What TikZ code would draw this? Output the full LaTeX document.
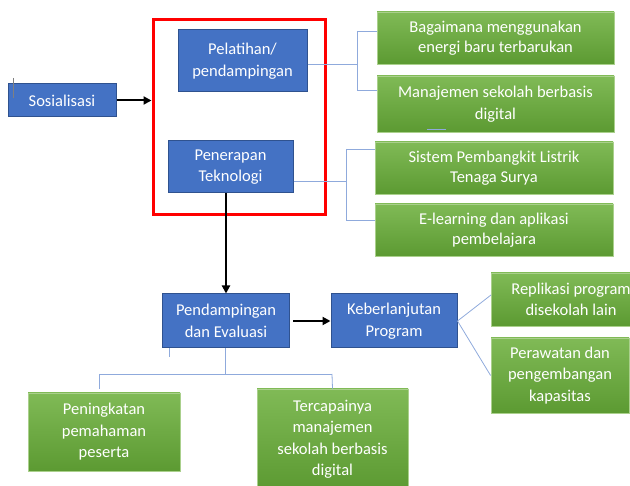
\documentclass[tikz,border=0pt]{standalone}
\usepackage{fontspec}
\setmainfont{Carlito}
\usetikzlibrary{arrows.meta}
\definecolor{bfill}{HTML}{4472C4}
\definecolor{bdraw}{HTML}{2F528F}
\definecolor{gtop}{RGB}{128,186,86}
\definecolor{gbot}{RGB}{92,154,50}
\definecolor{gdraw}{RGB}{170,208,140}
\definecolor{conn}{HTML}{8FAADC}
\tikzset{
  bluebox/.style={draw=bdraw, line width=1pt, fill=bfill, text=white, align=center, inner sep=0pt,
    font=\fontsize{16.5}{21.5}\selectfont},
  greenbox/.style={draw=gdraw, line width=0.8pt, top color=gtop, bottom color=gbot, text=white, align=center, inner sep=0pt,
    font=\fontsize{16.5}{21.5}\selectfont},
  tightfont/.style={font=\fontsize{16.5}{19.5}\selectfont},
  connline/.style={draw=conn, line width=0.8pt},
  arrowline/.style={draw=black, line width=2pt, -{Triangle[length=8pt,width=8pt]}},
  redframe/.style={draw=red, line width=3pt, inner sep=0pt}
}
\begin{document}
\begin{tikzpicture}[x=1pt,y=-1pt]
\useasboundingbox (0,0) rectangle (630,486);

% red group frame
\node[redframe, minimum width=172pt, minimum height=195pt] (grp) at (239,117.5) {};

% blue boxes
\node[bluebox, minimum width=108pt, minimum height=33pt] (sos) at (62,100.5) {Sosialisasi};
\node[bluebox, minimum width=129pt, minimum height=62pt] (pel) at (242.5,61) {Pelatihan/\\pendampingan};
\node[bluebox, minimum width=125pt, minimum height=52pt] (pen) at (230.5,167) {Penerapan\\Teknologi};
\node[bluebox, minimum width=127pt, minimum height=54pt] (pend) at (226,321) {Pendampingan\\dan Evaluasi};
\node[bluebox, minimum width=126pt, minimum height=54pt] (keb) at (394,321) {Keberlanjutan\\Program};

% green boxes
\node[greenbox, tightfont, minimum width=237pt, minimum height=52pt] (g1) at (495.5,38) {Bagaimana menggunakan\\energi baru terbarukan};
\node[greenbox, minimum width=237pt, minimum height=56pt] (g2) at (495.5,104) {Manajemen sekolah berbasis\\digital};
\node[greenbox, tightfont, minimum width=238pt, minimum height=52pt] (g3) at (494,168) {Sistem Pembangkit Listrik\\Tenaga Surya};
\node[greenbox, tightfont, minimum width=238pt, minimum height=52pt] (g4) at (494,230) {E-learning dan aplikasi\\pembelajara};
\node[greenbox, minimum width=160pt, minimum height=53pt] (rep) at (571,299.5) {Replikasi program\\disekolah lain};
\node[greenbox, minimum width=138pt, minimum height=75pt] (per) at (560,375.5) {Perawatan dan\\pengembangan\\kapasitas};
\node[greenbox, minimum width=152pt, minimum height=78pt] (pen1) at (104,432) {Peningkatan\\pemahaman\\peserta};
\node[greenbox, minimum width=151pt, minimum height=100pt] (ter) at (332.5,439) {Tercapainya\\manajemen\\sekolah berbasis\\digital};

% arrows
\draw[arrowline] (sos.east) -- (sos.east -| grp.west);
\draw[arrowline] (pen.south -| pend.north) -- (pend.north);
\draw[arrowline, shorten <=3pt] (pend.east) -- (keb.west);

% tree connectors: Pelatihan
\coordinate (m1) at (357,64);
\draw[connline] (pel.east |- m1) -- (m1);
\draw[connline] (m1 |- 0,31) -- (m1 |- 0,90);
\draw[connline] (m1 |- 0,31) -- (g1.west |- 0,31);
\draw[connline] (m1 |- 0,90) -- (g2.west |- 0,90);

% tree connectors: Penerapan
\coordinate (m2) at (346,181);
\draw[connline] (pen.east |- m2) -- (m2);
\draw[connline] (m2 |- 0,149) -- (m2 |- 0,220);
\draw[connline] (m2 |- 0,149) -- (g3.west |- 0,149);
\draw[connline] (m2 |- 0,220) -- (g4.west |- 0,220);

% tree connectors: Pendampingan
\coordinate (m3) at (225,374);
\draw[connline] (pend.south -| m3) -- (m3);
\draw[connline] (99,374) -- (332,374);
\draw[connline] (99,374) -- (99,389);
\draw[connline] (332,374) -- (ter.north);

% Keberlanjutan
\draw[connline] (keb.east) -- (491,295);
\draw[connline] (keb.east) -- (per.west);

% small stray marks
\draw[draw=gray, line width=0.8pt] (13,78) -- (13,98);
\draw[connline] (427,129) -- (446,129);
\draw[connline] (169,348) -- (169,357);
\end{tikzpicture}
\end{document}
